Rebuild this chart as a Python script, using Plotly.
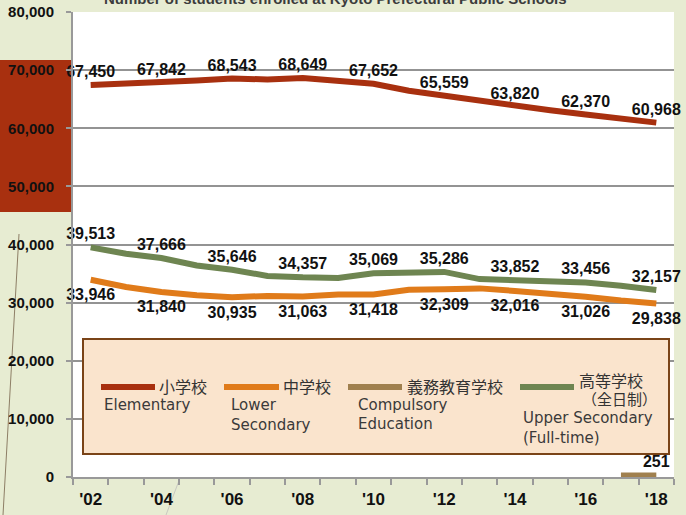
import plotly.graph_objects as go

years = list(range(2002, 2019))
elementary = [67450, 67650, 67842, 68200, 68543, 68400, 68649, 68250, 67652,
              66450, 65559, 64750, 63820, 63100, 62370, 61650, 60968]
lower_secondary = [33946, 32700, 31840, 31250, 30935, 31150, 31063, 31400, 31418,
                   32200, 32309, 32450, 32016, 31550, 31026, 30350, 29838]
upper_secondary = [39513, 38400, 37666, 36400, 35646, 34600, 34357, 34250, 35069,
                   35200, 35286, 34050, 33852, 33550, 33456, 32900, 32157]
compulsory_years = [2017, 2018]
compulsory = [240, 251]

tick_years = [2002, 2004, 2006, 2008, 2010, 2012, 2014, 2016, 2018]
tick_text = ["'02", "'04", "'06", "'08", "'10", "'12", "'14", "'16", "'18"]

C_ELEM = "#A8300F"
C_LOW = "#E07B1A"
C_COMP = "#A0804E"
C_UP = "#6E8551"

L, R, T, B = 73, 12, 12, 38
W, H = 686, 515
PW, PH = W - L - R, H - T - B


def px(x):
    return (x - L) / PW


def py(y):
    return (H - B - y) / PH


def labels(vals, ys):
    lab = []
    for y, v in zip(ys, vals):
        lab.append(f"{v:,}" if y in tick_years else "")
    return lab


lab_font = dict(family="Liberation Sans", size=16, color="#111", weight="bold")

fig = go.Figure()

def add_series(xs, vals, color, pos, msize):
    fig.add_trace(go.Scatter(
        x=xs, y=vals, mode="lines+markers+text",
        line=dict(color=color, width=6),
        marker=dict(size=msize, color="rgba(0,0,0,0)"),
        text=labels(vals, xs), textposition=pos, textfont=lab_font,
        cliponaxis=False, showlegend=False, hoverinfo="skip"))

add_series(years, elementary, C_ELEM, "top center", 4)
add_series(years, lower_secondary, C_LOW, "bottom center", 12)
add_series(years, upper_secondary, C_UP, "top center", 5)
add_series(compulsory_years, compulsory, C_COMP, "top center", 0)

shapes = []
# red block at left
shapes.append(dict(type="rect", xref="paper", yref="paper", layer="below",
                   x0=px(0), x1=px(73), y0=py(212), y1=py(60),
                   fillcolor="#A8300F", line=dict(width=0)))
# decorative thin lines
shapes.append(dict(type="line", xref="paper", yref="paper", layer="below",
                   x0=px(19), y0=py(234), x1=px(3), y1=py(515),
                   line=dict(color="#8d7e66", width=1)))
shapes.append(dict(type="line", xref="paper", yref="paper", layer="below",
                   x0=px(180), y0=py(478), x1=px(166), y1=py(515),
                   line=dict(color="#c8c8c0", width=1)))
# legend box
shapes.append(dict(type="rect", xref="paper", yref="paper", layer="above",
                   x0=px(83), x1=px(669), y0=py(454), y1=py(339),
                   fillcolor="#FAE4CD", line=dict(color="#7A4418", width=2)))
legend_lines = [(101, 155, 387, C_ELEM), (224, 279, 387, C_LOW),
                (348, 402, 387, C_COMP), (520, 574, 387, C_UP)]
for x0, x1, yy, c in legend_lines:
    shapes.append(dict(type="line", xref="paper", yref="paper", layer="above",
                       x0=px(x0), x1=px(x1), y0=py(yy), y1=py(yy),
                       line=dict(color=c, width=6)))

ann = []
cjk = dict(family="Noto Sans CJK JP", size=16, color="#333")
eng = dict(family="DejaVu Sans", size=15, color="#3a3a3a")
legend_text = [
    ("小学校", 157, 386, cjk), ("Elementary", 102, 405, eng),
    ("中学校", 281, 386, cjk), ("Lower", 229, 405, eng), ("Secondary", 229, 425, eng),
    ("義務教育学校", 405, 386, cjk), ("Compulsory", 356, 405, eng), ("Education", 356, 424, eng),
    ("高等学校", 577, 380, cjk), ("（全日制）", 580, 398, dict(cjk, size=15)),
    ("Upper Secondary", 521, 418, eng), ("(Full-time)", 521, 438, eng),
]
for t, x, y, f in legend_text:
    ann.append(dict(text=t, x=px(x), y=py(y), xref="paper", yref="paper",
                    xanchor="left", yanchor="middle", showarrow=False, font=f))
# title (cut off at the top of the picture)
ann.append(dict(text="Number of students enrolled at Kyoto Prefectural Public Schools",
                x=px(335), y=py(9), xref="paper", yref="paper",
                xanchor="center", yanchor="bottom", showarrow=False,
                font=dict(family="Liberation Sans", size=15, color="#3c3c3c", weight="bold")))

fig.update_layout(
    width=W, height=H,
    margin=dict(l=L, r=R, t=T, b=B, autoexpand=False),
    paper_bgcolor="#E7ECD2", plot_bgcolor="#FFFFFF",
    shapes=shapes, annotations=ann,
    xaxis=dict(range=[2001.5, 2018.5], tickvals=tick_years, ticktext=tick_text,
               ticks="", showgrid=False, zeroline=False, automargin=False,
               showline=True, linecolor="#999999", linewidth=2,
               tickfont=dict(family="Liberation Sans", size=17, color="#111", weight="bold"),
               ticklabelstandoff=6,
               minor=dict(tick0=2001.5, dtick=1, ticks="outside", ticklen=6,
                          tickcolor="#999999", tickwidth=1.5, showgrid=False)),
    yaxis=dict(range=[0, 80000], dtick=10000, tickformat=",", automargin=False,
               showgrid=True, gridcolor="#939393", gridwidth=1.5,
               zeroline=False, showline=True, linecolor="#999999", linewidth=2,
               ticks="outside", ticklen=5, tickcolor="#999999", tickwidth=1.5,
               ticklabelstandoff=9,
               tickfont=dict(family="Liberation Sans", size=15, color="#111", weight="bold")),
)

fig.write_html("out.html", config={"displayModeBar": False},
               post_script="document.body.style.margin='0px';document.body.style.overflow='hidden';")
